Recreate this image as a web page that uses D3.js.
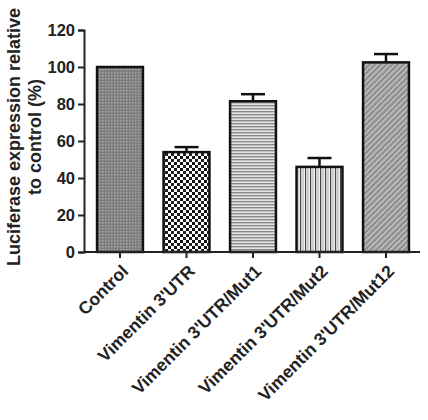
<!DOCTYPE html>
<html>
<head>
<meta charset="utf-8">
<script src="https://cdn.jsdelivr.net/npm/d3@7"></script>
<style>
  body { margin: 0; background: #fff; }
  text { font-family: 'Liberation Sans', Arial, sans-serif; font-weight: bold; }
</style>
</head>
<body>
<div id="chart"></div>
<script>
const groups = ['Control', "Vimentin 3'UTR", "Vimentin 3'UTR/Mut1", "Vimentin 3'UTR/Mut2", "Vimentin 3'UTR/Mut12"]
const values = [100, 54, 81.5, 46, 102.5]
const errors = [0, 2.7, 3.8, 4.8, 4.5]
const yTicks = [0, 20, 40, 60, 80, 100, 120]
const patterns = ['pat-dots', 'pat-check', 'pat-horiz', 'pat-vert', 'pat-diag']

const width = 428
const height = 420

const svg = d3
  .select('#chart')
  .append('svg')
  .attr('width', width)
  .attr('height', height)

const defs = svg.append('defs')

// fine grey dot screen
const p1 = defs.append('pattern').attr('id', 'pat-dots')
  .attr('patternUnits', 'userSpaceOnUse').attr('width', 3).attr('height', 3)
p1.append('rect').attr('width', 3).attr('height', 3).attr('fill', '#7c7c7c')
p1.append('rect').attr('width', 1.5).attr('height', 1.5).attr('fill', '#a8a8a8')

// black/white check
const p2 = defs.append('pattern').attr('id', 'pat-check')
  .attr('patternUnits', 'userSpaceOnUse').attr('width', 6).attr('height', 6)
p2.append('rect').attr('width', 6).attr('height', 6).attr('fill', '#fff')
p2.append('rect').attr('width', 3).attr('height', 3).attr('fill', '#111')
p2.append('rect').attr('x', 3).attr('y', 3).attr('width', 3).attr('height', 3).attr('fill', '#222')

// horizontal lines
const p3 = defs.append('pattern').attr('id', 'pat-horiz')
  .attr('patternUnits', 'userSpaceOnUse').attr('width', 4).attr('height', 3)
p3.append('rect').attr('width', 4).attr('height', 3).attr('fill', '#e4e4e4')
p3.append('rect').attr('width', 4).attr('height', 1.4).attr('fill', '#8a8a8a')

// vertical lines
const p4 = defs.append('pattern').attr('id', 'pat-vert')
  .attr('patternUnits', 'userSpaceOnUse').attr('width', 5).attr('height', 4)
p4.append('rect').attr('width', 5).attr('height', 4).attr('fill', '#f2f2f2')
p4.append('rect').attr('width', 1.2).attr('height', 4).attr('fill', '#444')
p4.append('rect').attr('x', 2.5).attr('width', 1).attr('height', 4).attr('fill', '#aaa')

// diagonal lines
const p5 = defs.append('pattern').attr('id', 'pat-diag')
  .attr('patternUnits', 'userSpaceOnUse').attr('width', 4).attr('height', 4)
  .attr('patternTransform', 'rotate(45)')
p5.append('rect').attr('width', 4).attr('height', 4).attr('fill', '#8e8e8e')
p5.append('rect').attr('width', 1.5).attr('height', 4).attr('fill', '#c6c6c6')

const x = d3
  .scaleBand()
  .domain(groups)
  .range([86.75, 419.25])
  .paddingInner(0.31)
  .paddingOuter(0.155)

const y = d3
  .scaleLinear()
  .domain([0, 120])
  .range([252, 30])

// bars
svg
  .selectAll('.bar')
  .data(groups)
  .enter()
  .append('rect')
  .attr('class', 'bar')
  .attr('x', d => x(d))
  .attr('y', (d, i) => y(values[i]))
  .attr('width', x.bandwidth())
  .attr('height', (d, i) => y(0) - y(values[i]))
  .attr('fill', (d, i) => 'url(#' + patterns[i] + ')')
  .attr('stroke', '#111')
  .attr('stroke-width', 2.5)

// error bars
const errG = svg.append('g').attr('stroke', '#111').attr('stroke-width', 2.5)
groups.forEach((d, i) => {
  if (!errors[i]) return
  const cx = x(d) + x.bandwidth() / 2
  errG.append('line')
    .attr('x1', cx).attr('x2', cx)
    .attr('y1', y(values[i])).attr('y2', y(values[i] + errors[i]))
  errG.append('line')
    .attr('x1', cx - 12).attr('x2', cx + 12)
    .attr('y1', y(values[i] + errors[i])).attr('y2', y(values[i] + errors[i]))
})

// y axis
const yAxis = svg
  .append('g')
  .attr('transform', 'translate(84,0)')
  .call(d3.axisLeft(y).tickValues(yTicks).tickSize(6).tickPadding(3))
yAxis.select('.domain').attr('stroke', '#222').attr('stroke-width', 2)
yAxis.selectAll('.tick line').attr('stroke', '#222').attr('stroke-width', 2)
yAxis.selectAll('.tick text')
  .attr('font-size', 16.5)
  .attr('fill', '#222')
  .attr('font-family', "'Liberation Sans', Arial, sans-serif")
  .attr('font-weight', 'bold')

// x axis
const xAxis = svg
  .append('g')
  .attr('transform', 'translate(0,252)')
  .call(d3.axisBottom(x).tickSize(6).tickSizeOuter(0).tickFormat(''))
xAxis.select('.domain').attr('stroke', '#222').attr('stroke-width', 2)
  .attr('d', 'M84,0H420')
xAxis.selectAll('.tick line').attr('stroke', '#222').attr('stroke-width', 2)

// rotated category labels
svg
  .selectAll('.cat-label')
  .data(groups)
  .enter()
  .append('text')
  .attr('class', 'cat-label')
  .attr('transform', d => 'translate(' + (x(d) + x.bandwidth() / 2 + 5) + ',268) rotate(-45)')
  .attr('text-anchor', 'end')
  .attr('dy', '0.35em')
  .attr('font-size', 17.5)
  .attr('fill', '#222')
  .text(d => d)

// y title
const title = svg
  .append('text')
  .attr('transform', 'translate(20,137) rotate(-90)')
  .attr('text-anchor', 'middle')
  .attr('font-size', 18)
  .attr('fill', '#222')
title.append('tspan').attr('x', 0).attr('dy', 0).text('Luciferase expression relative')
title.append('tspan').attr('x', 0).attr('dy', 21).text('to control (%)')
</script>
</body>
</html>
